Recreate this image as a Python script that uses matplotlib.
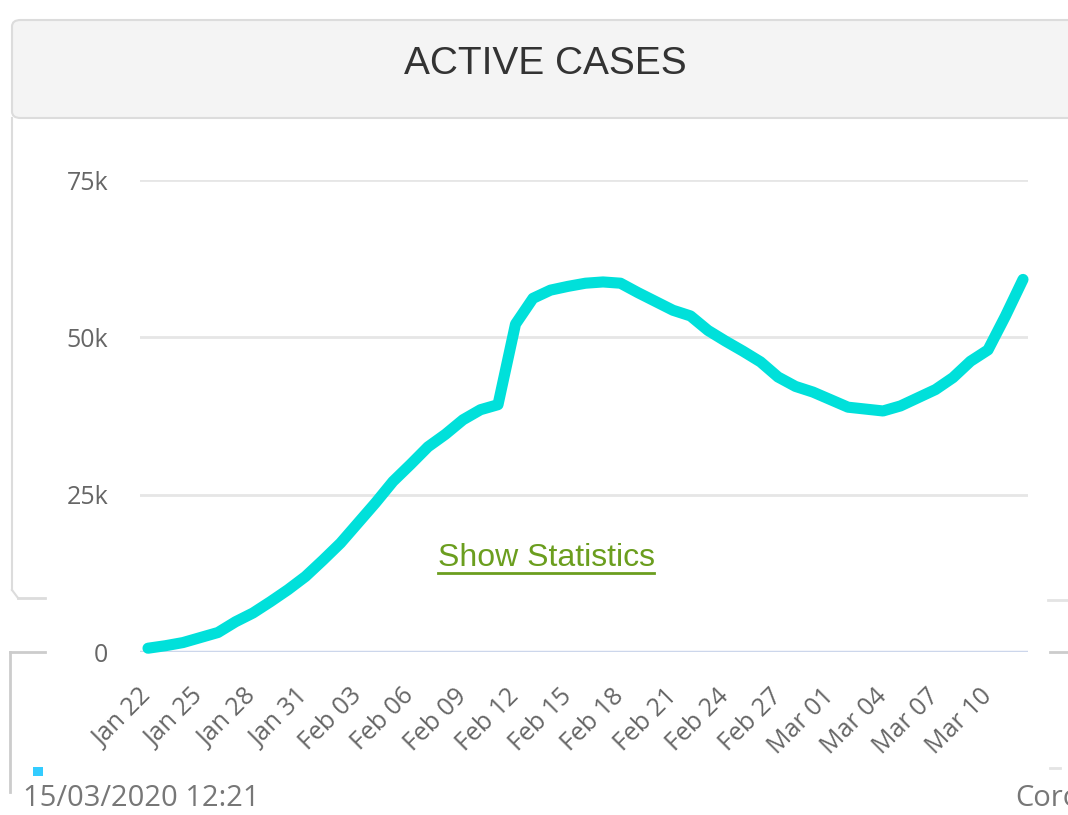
import matplotlib
matplotlib.use("Agg")
import matplotlib.pyplot as plt
from matplotlib.patches import Rectangle, FancyBboxPatch
from matplotlib.lines import Line2D
import numpy as np

# ---- data ----
title = "ACTIVE CASES"
active_cases = [600, 1000, 1500, 2300, 3100, 4800, 6200, 8000, 9900, 12000,
                14600, 17300, 20500, 23700, 27100, 29800, 32600, 34600, 36900, 38500,
                39300, 52100, 56200, 57500, 58100, 58600, 58800, 58600, 57100, 55700,
                54300, 53400, 51100, 49400, 47800, 46100, 43700, 42200, 41300, 40100,
                38900, 38600, 38300, 39100, 40400, 41700, 43600, 46200, 48000, 53400,
                59200]
tick_labels = ["Jan 22", "Jan 25", "Jan 28", "Jan 31", "Feb 03", "Feb 06", "Feb 09",
               "Feb 12", "Feb 15", "Feb 18", "Feb 21", "Feb 24", "Feb 27", "Mar 01",
               "Mar 04", "Mar 07", "Mar 10"]
y_ticks = [0, 25000, 50000, 75000]
y_tick_labels = ["0", "25k", "50k", "75k"]
timestamp = "15/03/2020 12:21"

W, H = 1068, 815
fig = plt.figure(figsize=(W / 100, H / 100), dpi=100)
fig.patch.set_facecolor("white")

NARROW = ["Liberation Sans Narrow", "Liberation Sans", "DejaVu Sans"]

def fx(px):
    return px / W

def fy(py):
    return 1 - py / H

# ---- page decorations (boxes/borders) ----
border = "#dcdcdc"
fig.patches.append(FancyBboxPatch((fx(12), fy(118)), fx(1080) - fx(12), fy(20) - fy(118),
                                  boxstyle="round,pad=0,rounding_size=0.008",
                                  transform=fig.transFigure, facecolor="#f4f4f4",
                                  edgecolor=border, linewidth=1.5, zorder=0))
fig.lines.append(Line2D([fx(12), fx(12)], [fy(118), fy(590)], transform=fig.transFigure,
                        color=border, lw=1.5, zorder=0))
fig.lines.append(Line2D([fx(18), fx(45)], [fy(598), fy(598)], transform=fig.transFigure,
                        color=border, lw=2, zorder=0))
fig.lines.append(Line2D([fx(12), fx(18)], [fy(590), fy(598)], transform=fig.transFigure,
                        color=border, lw=1.5, zorder=0))
fig.lines.append(Line2D([fx(1048), fx(1068)], [fy(600), fy(600)], transform=fig.transFigure,
                        color="#e4e4e4", lw=2, zorder=0))
fig.lines.append(Line2D([fx(10), fx(45)], [fy(652), fy(652)], transform=fig.transFigure,
                        color="#cccccc", lw=2, zorder=0))
fig.lines.append(Line2D([fx(10), fx(10)], [fy(652), fy(792)], transform=fig.transFigure,
                        color="#cccccc", lw=2, zorder=0))
fig.lines.append(Line2D([fx(1050), fx(1068)], [fy(652), fy(652)], transform=fig.transFigure,
                        color="#cccccc", lw=2, zorder=0))
fig.lines.append(Line2D([fx(1050), fx(1060)], [fy(768), fy(768)], transform=fig.transFigure,
                        color="#e4e4e4", lw=2, zorder=0))
fig.patches.append(Rectangle((fx(33), fy(776)), fx(10), fy(767) - fy(776),
                             transform=fig.transFigure, facecolor="#33ccff",
                             edgecolor="none", zorder=1))

fig.text(fx(545), fy(64), title, ha="center", va="center", fontsize=28,
         color="#333333", family=NARROW)

# ---- chart ----
ax = fig.add_axes([fx(140), fy(652), fx(1028) - fx(140), fy(180) - fy(652)])
ax.set_facecolor("white")
x = np.arange(len(active_cases))
ax.set_xlim(-8 / 17.5, len(active_cases) - 1 + 5 / 17.5)
ax.set_ylim(0, 75000)

ax.set_yticks(y_ticks)
ax.set_yticklabels(y_tick_labels)
ax.yaxis.grid(True, color="#e6e6e6", lw=2)
ax.set_axisbelow(True)
for s in ax.spines.values():
    s.set_visible(False)
ax.axhline(0, color="#ccd6eb", lw=2.5, zorder=1)

ax.plot(x, active_cases, color="#00e0da", lw=8, solid_joinstyle="round",
        solid_capstyle="round", clip_on=False, zorder=3)

ax.set_xticks(x[::3])
ax.set_xticklabels(tick_labels, rotation=45, ha="right", va="center",
                   rotation_mode="anchor")
ax.tick_params(axis="x", length=0, pad=29, labelsize=18, labelcolor="#666666")
ax.tick_params(axis="y", length=0, pad=23, labelsize=18, labelcolor="#666666")
for lab in ax.get_xticklabels() + ax.get_yticklabels():
    lab.set_family(["Open Sans", "DejaVu Sans"])

ax.text(0.4575, 0.2, "Show Statistics", transform=ax.transAxes, ha="center",
        va="center", fontsize=23, color="#6b9e1f", family=NARROW)
ax.plot([fx(438), fx(654)], [fy(573), fy(573)], transform=fig.transFigure,
        color="#6b9e1f", lw=2, clip_on=False)

fig.text(fx(23), fy(798), timestamp, ha="left", va="center", fontsize=21,
         color="#777777", family=["Open Sans", "DejaVu Sans"])
fig.text(fx(1015), fy(798), "Coronavirus", ha="left", va="center", fontsize=21,
         color="#777777", family=["Open Sans", "DejaVu Sans"])

fig.savefig("out.png", dpi=100, facecolor="white")
